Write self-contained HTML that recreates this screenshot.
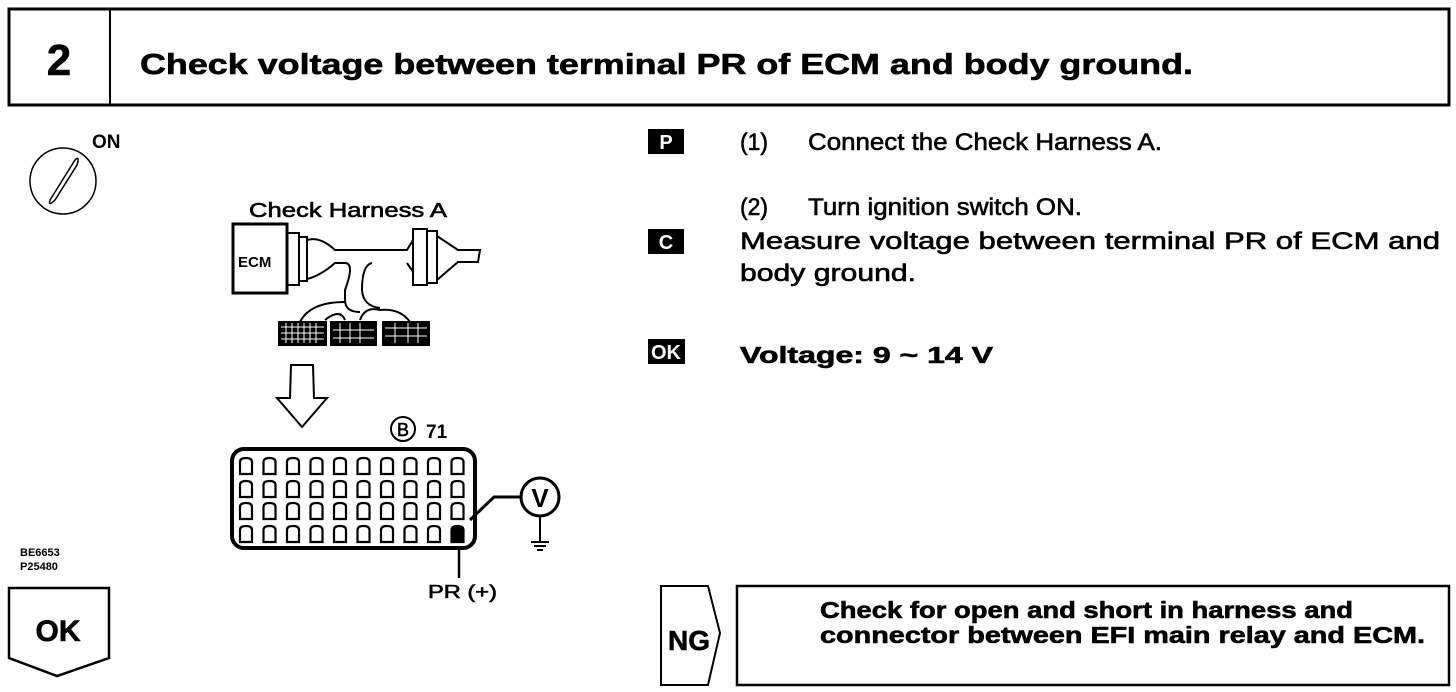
<!DOCTYPE html>
<html><head><meta charset="utf-8"><style>
html,body{margin:0;padding:0;background:#fff}
svg{display:block}
text{font-family:"Liberation Sans",sans-serif;fill:#000}
.t{stroke:#000;stroke-width:0.6}
</style></head><body>
<svg width="1456" height="692" viewBox="0 0 1456 692" xmlns="http://www.w3.org/2000/svg">
<defs><path id="pd" d="M0 16 L0 4 Q0 0 6 0 Q12 0 12 4 L12 16 Z" fill="none" stroke="#000" stroke-width="2.2"/></defs>
<!-- header -->
<rect x="9" y="9" width="1440" height="96" fill="none" stroke="#000" stroke-width="3"/>
<line x1="110" y1="9" x2="110" y2="105" stroke="#000" stroke-width="2"/>
<text x="59" y="75" font-size="44" font-weight="bold" text-anchor="middle" class="t">2</text>
<text x="140" y="74" font-size="29" font-weight="bold" class="t" textLength="1053" lengthAdjust="spacingAndGlyphs">Check voltage between terminal PR of ECM and body ground.</text>

<!-- key -->
<circle cx="63" cy="181" r="33" fill="none" stroke="#000" stroke-width="1.5"/>
<path d="M50 200 L75 160 Q80 155 77 165 L55 200 Q48 207 50 200Z" fill="none" stroke="#000" stroke-width="1.5"/>
<text x="92" y="148" font-size="19" font-weight="bold">ON</text>

<!-- harness -->
<text x="249" y="217" font-size="20" class="t" textLength="198" lengthAdjust="spacingAndGlyphs">Check Harness A</text>
<rect x="233" y="224" width="54" height="69" fill="#fff" stroke="#000" stroke-width="3"/>
<text x="238" y="267" font-size="15" font-weight="bold">ECM</text>
<rect x="287" y="233" width="12" height="52" fill="none" stroke="#000" stroke-width="2"/>
<rect x="299" y="237" width="8" height="44" fill="none" stroke="#000" stroke-width="2"/>
<path d="M307 240 Q320 236 335 250 L407 250 Q415 236 420 232 M307 279 Q320 276 335 263 L345 263 Q355 263 345 290 L345 300 Q345 312 360 312 M407 263 Q420 283 428 285 M372 263 Q362 265 362 290 Q363 306 380 308" fill="none" stroke="#000" stroke-width="2"/>
<rect x="413" y="229" width="14" height="56" fill="#fff" stroke="#000" stroke-width="2"/>
<rect x="427" y="231" width="10" height="52" fill="#fff" stroke="#000" stroke-width="2"/>
<path d="M437 236 L458 250 L480 250 L478 262 L458 262 L437 280" fill="none" stroke="#000" stroke-width="2"/>
<path d="M300 322 Q310 302 345 302 M325 320 Q340 308 345 320 M360 320 Q365 306 380 310 Q400 308 410 322" fill="none" stroke="#000" stroke-width="2"/>
<g fill="#000">
<rect x="278" y="321" width="49" height="25"/>
<rect x="330" y="321" width="47" height="25"/>
<rect x="382" y="321" width="48" height="25"/>
</g>
<g stroke="#fff" stroke-width="1">
<path d="M281 327h43M281 333h43M281 339h43M333 330h41M333 338h41M385 328h42M385 336h42"/>
<path d="M286 323v20M292 323v20M298 323v20M304 323v20M310 323v20M316 323v20M340 323v20M350 323v20M360 323v20M395 323v20M408 323v20M418 323v20"/>
</g>

<!-- down arrow -->
<path d="M291 365 L313 365 L314 398 L327 398 L302 427 L277 398 L290 398 Z" fill="#fff" stroke="#000" stroke-width="2"/>

<!-- B 71 -->
<circle cx="403" cy="429" r="12" fill="none" stroke="#000" stroke-width="2"/>
<text x="403" y="436" font-size="18" text-anchor="middle" class="t">B</text>
<text x="426" y="438" font-size="19" font-weight="bold">71</text>

<!-- connector -->
<rect x="232" y="449" width="243" height="99" rx="12" fill="#fff" stroke="#000" stroke-width="4"/>
<g transform="translate(240,458)">
<use href="#pd" x="0" y="0"/><use href="#pd" x="23.5" y="0"/><use href="#pd" x="47" y="0"/><use href="#pd" x="70.5" y="0"/><use href="#pd" x="94" y="0"/><use href="#pd" x="117.5" y="0"/><use href="#pd" x="141" y="0"/><use href="#pd" x="164.5" y="0"/><use href="#pd" x="188" y="0"/><use href="#pd" x="211.5" y="0"/>
<use href="#pd" x="0" y="23"/><use href="#pd" x="23.5" y="23"/><use href="#pd" x="47" y="23"/><use href="#pd" x="70.5" y="23"/><use href="#pd" x="94" y="23"/><use href="#pd" x="117.5" y="23"/><use href="#pd" x="141" y="23"/><use href="#pd" x="164.5" y="23"/><use href="#pd" x="188" y="23"/><use href="#pd" x="211.5" y="23"/>
<use href="#pd" x="0" y="45"/><use href="#pd" x="23.5" y="45"/><use href="#pd" x="47" y="45"/><use href="#pd" x="70.5" y="45"/><use href="#pd" x="94" y="45"/><use href="#pd" x="117.5" y="45"/><use href="#pd" x="141" y="45"/><use href="#pd" x="164.5" y="45"/><use href="#pd" x="188" y="45"/><use href="#pd" x="211.5" y="45"/>
<use href="#pd" x="0" y="68"/><use href="#pd" x="23.5" y="68"/><use href="#pd" x="47" y="68"/><use href="#pd" x="70.5" y="68"/><use href="#pd" x="94" y="68"/><use href="#pd" x="117.5" y="68"/><use href="#pd" x="141" y="68"/><use href="#pd" x="164.5" y="68"/><use href="#pd" x="188" y="68"/>
<path d="M211.5 84 L211.5 72 Q211.5 68 217.5 68 Q223.5 68 223.5 72 L223.5 84 Z" fill="#000" stroke="#000" stroke-width="2.2"/>
</g>
<path d="M470 520 L494 497 L521 497" fill="none" stroke="#000" stroke-width="3"/>
<circle cx="540" cy="497" r="19" fill="#fff" stroke="#000" stroke-width="3"/>
<text x="540" y="507" font-size="26" font-weight="bold" text-anchor="middle">V</text>
<path d="M540 516 V541 M531 542 H549 M534 546 H546 M537 550 H543" stroke="#000" stroke-width="2"/>
<line x1="459" y1="548" x2="459" y2="578" stroke="#000" stroke-width="2.5"/>
<text x="428" y="598" font-size="18" class="t" textLength="69" lengthAdjust="spacingAndGlyphs">PR (+)</text>

<text x="20" y="556" font-size="11" font-weight="bold">BE6653</text>
<text x="20" y="570" font-size="11" font-weight="bold">P25480</text>

<!-- OK pentagon -->
<path d="M9 588 H109 V658 L57 676 L9 658 Z" fill="none" stroke="#000" stroke-width="2.5"/>
<text x="58" y="641" font-size="30" font-weight="bold" text-anchor="middle" class="t">OK</text>

<!-- right column -->
<rect x="648" y="129" width="36" height="25" fill="#000"/>
<text x="666" y="149" font-size="20" font-weight="bold" style="fill:#fff" text-anchor="middle">P</text>
<text x="740" y="150" font-size="24" class="t" textLength="28" lengthAdjust="spacingAndGlyphs">(1)</text>
<text x="808" y="150" font-size="24" class="t" textLength="354" lengthAdjust="spacingAndGlyphs">Connect the Check Harness A.</text>
<text x="740" y="215" font-size="24" class="t" textLength="28" lengthAdjust="spacingAndGlyphs">(2)</text>
<text x="808" y="215" font-size="24" class="t" textLength="274" lengthAdjust="spacingAndGlyphs">Turn ignition switch ON.</text>
<rect x="648" y="229" width="36" height="25" fill="#000"/>
<text x="666" y="249" font-size="20" font-weight="bold" style="fill:#fff" text-anchor="middle">C</text>
<text x="740" y="249" font-size="24" class="t" textLength="700" lengthAdjust="spacingAndGlyphs">Measure voltage between terminal PR of ECM and</text>
<text x="740" y="281" font-size="24" class="t" textLength="176" lengthAdjust="spacingAndGlyphs">body ground.</text>
<rect x="648" y="339" width="37" height="25" fill="#000"/>
<text x="666" y="359" font-size="20" font-weight="bold" style="fill:#fff" text-anchor="middle">OK</text>
<text x="740" y="363" font-size="23" font-weight="bold" class="t" textLength="253" lengthAdjust="spacingAndGlyphs">Voltage:   9 ~ 14 V</text>

<!-- NG -->
<path d="M661 586 H708 L720 633 L708 685 H661 Z" fill="none" stroke="#000" stroke-width="2"/>
<text x="689" y="650" font-size="28" font-weight="bold" text-anchor="middle" class="t">NG</text>
<rect x="737" y="586" width="712" height="99" fill="none" stroke="#000" stroke-width="2.5"/>
<text x="820" y="618" font-size="23" font-weight="bold" class="t" textLength="533" lengthAdjust="spacingAndGlyphs">Check for open and short in harness and</text>
<text x="820" y="643" font-size="23" font-weight="bold" class="t" textLength="605" lengthAdjust="spacingAndGlyphs">connector between EFI main relay and ECM.</text>
</svg>
</body></html>
